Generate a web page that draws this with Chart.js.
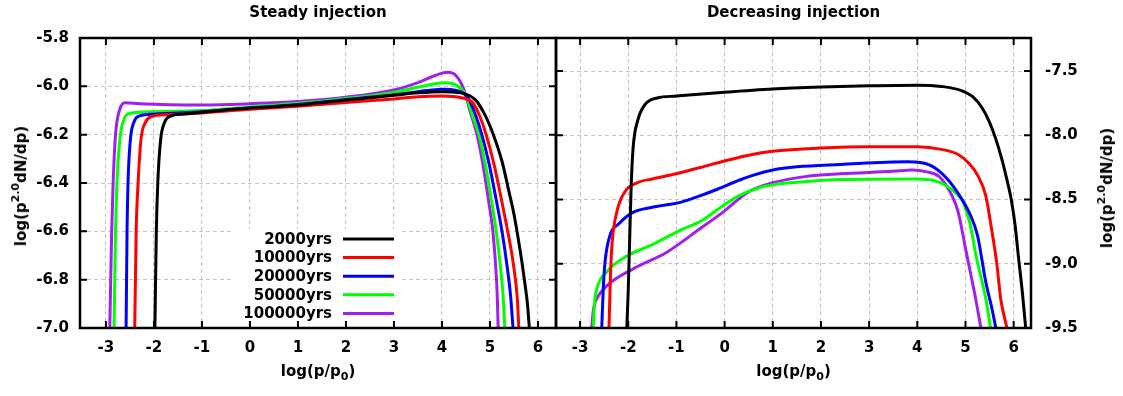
<!DOCTYPE html>
<html>
<head>
<meta charset="utf-8">
<script src="https://cdn.jsdelivr.net/npm/chart.js@4.4.0/dist/chart.umd.min.js"></script>
<style>
  body { margin: 0; background: #fff; width: 1123px; height: 396px; position: relative; overflow: hidden; }
  canvas { position: absolute; top: 0; }
  #steadyChart { left: 0; }
  #decrChart { left: 552px; }
  .lbl { position: absolute; font-family: "DejaVu Sans", sans-serif; font-weight: bold; font-size: 15px; line-height: 18px; white-space: nowrap; color: #000; }
  .sup { font-size: 11px; vertical-align: 7px; line-height: 0; }
  .sub { font-size: 11px; vertical-align: -4px; line-height: 0; }
  .rot { transform: translate(-50%, -50%) rotate(-90deg); }
</style>
</head>
<body>
<canvas id="steadyChart" width="560" height="396"></canvas>
<canvas id="decrChart" width="571" height="396"></canvas>

<div class="lbl" style="left:80px;width:476px;top:3px;text-align:center">Steady injection</div>
<div class="lbl" style="left:556px;width:475px;top:3px;text-align:center">Decreasing injection</div>
<div class="lbl" style="left:80px;width:476px;top:362px;text-align:center">log(p/p<span class="sub">0</span>)</div>
<div class="lbl" style="left:556px;width:475px;top:362px;text-align:center">log(p/p<span class="sub">0</span>)</div>
<div class="lbl rot" style="left:21px;top:186px">log(p<span class="sup">2.0</span>dN/dp)</div>
<div class="lbl rot" style="left:1107px;top:188px">log(p<span class="sup">2.0</span>dN/dp)</div>

<script>
// tick labels
const xTicks = [-3, -2, -1, 0, 1, 2, 3, 4, 5, 6];
const steadyYTicks = [-7.0, -6.8, -6.6, -6.4, -6.2, -6.0, -5.8];
const decrYTicks = [-9.5, -9.0, -8.5, -8.0, -7.5];

const seriesNames = ["2000yrs", "10000yrs", "20000yrs", "50000yrs", "100000yrs"];
const seriesColors = ["#000000", "#ff0000", "#0000ff", "#00ff00", "#a020f0"];

// Steady injection, [log(p/p0), log(p^2 dN/dp)]
const steady2000 = [[-1.98,-7.0],[-1.95,-6.6],[-1.92,-6.4],[-1.86,-6.22],[-1.78,-6.15],[-1.65,-6.123],[-1.4,-6.115],[-1,-6.107],[0,-6.09],[1,-6.077],[2,-6.057],[3,-6.037],[3.5,-6.027],[4,-6.022],[4.4,-6.027],[4.7,-6.057],[4.9,-6.12],[5.07,-6.2],[5.25,-6.31],[5.4,-6.44],[5.5,-6.53],[5.58,-6.62],[5.66,-6.72],[5.73,-6.82],[5.78,-6.9],[5.82,-7.0]];
const steady10000 = [[-2.4,-7.0],[-2.37,-6.6],[-2.33,-6.4],[-2.27,-6.22],[-2.18,-6.15],[-2.05,-6.125],[-1.7,-6.117],[-1,-6.11],[0,-6.095],[1,-6.082],[2,-6.067],[3,-6.052],[3.5,-6.043],[4,-6.04],[4.4,-6.047],[4.65,-6.07],[4.8,-6.13],[4.92,-6.2],[5.08,-6.32],[5.22,-6.45],[5.35,-6.58],[5.46,-6.7],[5.53,-6.8],[5.57,-6.88],[5.6,-7.0]];
const steady20000 = [[-2.58,-7.0],[-2.56,-6.6],[-2.54,-6.4],[-2.49,-6.22],[-2.42,-6.15],[-2.3,-6.122],[-2,-6.115],[-1,-6.105],[0,-6.09],[1,-6.075],[2,-6.055],[3,-6.035],[3.5,-6.022],[4,-6.012],[4.3,-6.017],[4.55,-6.05],[4.7,-6.12],[4.83,-6.2],[4.98,-6.32],[5.12,-6.46],[5.25,-6.6],[5.36,-6.75],[5.43,-6.87],[5.48,-7.0]];
const steady50000 = [[-2.83,-7.0],[-2.8,-6.6],[-2.77,-6.4],[-2.71,-6.22],[-2.63,-6.14],[-2.5,-6.112],[-2,-6.105],[-1,-6.1],[0,-6.085],[1,-6.07],[2,-6.05],[3,-6.025],[3.6,-6.0],[4.05,-5.985],[4.3,-5.995],[4.5,-6.04],[4.63,-6.12],[4.77,-6.2],[4.9,-6.32],[5.03,-6.47],[5.13,-6.6],[5.22,-6.75],[5.27,-6.86],[5.31,-7.0]];
const steady100000 = [[-2.92,-7.0],[-2.88,-6.6],[-2.85,-6.4],[-2.8,-6.2],[-2.72,-6.1],[-2.6,-6.068],[-2.3,-6.072],[-1,-6.077],[0,-6.072],[1,-6.063],[2,-6.045],[3,-6.015],[3.5,-5.985],[3.9,-5.952],[4.12,-5.942],[4.3,-5.957],[4.45,-6.01],[4.58,-6.1],[4.73,-6.2],[4.85,-6.32],[4.96,-6.46],[5.06,-6.6],[5.12,-6.75],[5.15,-6.86],[5.17,-7.0]];

// Decreasing injection
const decr2000 = [[-2.03,-9.5],[-2.0,-9.2],[-1.97,-8.8],[-1.94,-8.4],[-1.9,-8.1],[-1.8,-7.88],[-1.65,-7.76],[-1.4,-7.71],[-1,-7.695],[0,-7.665],[1,-7.64],[2,-7.625],[3,-7.615],[4,-7.61],[4.5,-7.62],[4.9,-7.65],[5.15,-7.7],[5.35,-7.79],[5.5,-7.9],[5.63,-8.03],[5.75,-8.18],[5.85,-8.33],[5.95,-8.5],[6.03,-8.7],[6.1,-8.95],[6.18,-9.22],[6.25,-9.5]];
const decr10000 = [[-2.4,-9.5],[-2.37,-9.1],[-2.34,-8.86],[-2.24,-8.6],[-2.07,-8.44],[-1.82,-8.37],[-1.5,-8.34],[-0.9,-8.29],[-0.4,-8.24],[0,-8.2],[0.5,-8.155],[1,-8.125],[2,-8.1],[3,-8.09],[4,-8.09],[4.5,-8.11],[4.85,-8.15],[5.1,-8.23],[5.25,-8.31],[5.42,-8.47],[5.55,-8.75],[5.65,-9.0],[5.73,-9.27],[5.86,-9.5]];
const decr20000 = [[-2.55,-9.5],[-2.52,-9.2],[-2.48,-8.98],[-2.38,-8.78],[-2.2,-8.69],[-1.9,-8.6],[-1.5,-8.56],[-0.9,-8.52],[-0.5,-8.47],[-0.15,-8.42],[0.3,-8.35],[0.6,-8.31],[1,-8.27],[1.5,-8.245],[2.4,-8.227],[3.8,-8.206],[4.25,-8.23],[4.6,-8.33],[4.93,-8.5],[5.1,-8.62],[5.25,-8.78],[5.42,-9.14],[5.55,-9.35],[5.63,-9.5]];
const decr50000 = [[-2.73,-9.5],[-2.7,-9.3],[-2.65,-9.19],[-2.44,-9.06],[-2.03,-8.94],[-1.55,-8.86],[-0.87,-8.73],[-0.5,-8.67],[-0.04,-8.55],[0.3,-8.47],[0.7,-8.41],[1.1,-8.38],[1.7,-8.36],[2.4,-8.345],[3.97,-8.34],[4.45,-8.365],[4.8,-8.45],[4.95,-8.52],[5.1,-8.7],[5.22,-8.94],[5.42,-9.27],[5.52,-9.5]];
const decr100000 = [[-2.76,-9.5],[-2.72,-9.35],[-2.65,-9.27],[-2.44,-9.17],[-1.9,-9.04],[-1.2,-8.91],[-0.52,-8.73],[-0.04,-8.6],[0.5,-8.44],[1,-8.37],[1.7,-8.32],[2.4,-8.3],[3.5,-8.28],[3.9,-8.27],[4.2,-8.285],[4.45,-8.32],[4.72,-8.47],[4.85,-8.6],[5.0,-8.88],[5.21,-9.27],[5.32,-9.5]];

const steadySeries = [steady2000, steady10000, steady20000, steady50000, steady100000];
const decrSeries = [decr2000, decr10000, decr20000, decr50000, decr100000];

const tickFont = { family: "DejaVu Sans", weight: "bold", size: 15 };

function makeDatasets(series) {
    return series.map((pts, i) => ({
        label: seriesNames[i],
        data: pts.map(p => ({ x: p[0], y: p[1] })),
        borderColor: seriesColors[i],
        borderWidth: 3,
        pointRadius: 0,
        fill: false,
        cubicInterpolationMode: "monotone"
    }));
}

// gnuplot-like frame: inward ticks on all sides + box, plus the key
const framePlugin = {
    id: "frame",
    afterDatasetsDraw(chart, args, opts) {
        const ctx = chart.ctx, a = chart.chartArea;
        const x = chart.scales.x, y = chart.scales.y;
        ctx.save();
        if (opts.key) {
            const k = opts.key;
            ctx.fillStyle = "#fff";
            ctx.fillRect(k.left, k.top, k.width, k.height);
            ctx.font = 'bold 15px "DejaVu Sans"';
            ctx.textAlign = "right";
            ctx.textBaseline = "middle";
            chart.data.datasets.forEach((ds, i) => {
                const yy = k.firstRow + i * k.rowGap;
                ctx.fillStyle = "#000";
                ctx.fillText(ds.label, k.textRight, yy + 1);
                ctx.strokeStyle = ds.borderColor;
                ctx.lineWidth = 3;
                ctx.beginPath();
                ctx.moveTo(k.lineFrom, yy);
                ctx.lineTo(k.lineTo, yy);
                ctx.stroke();
            });
        }
        const tl = 7;
        ctx.strokeStyle = "#000";
        ctx.lineWidth = 2;
        ctx.beginPath();
        x.ticks.forEach(t => {
            const px = x.getPixelForValue(t.value);
            ctx.moveTo(px, a.bottom); ctx.lineTo(px, a.bottom - tl);
            ctx.moveTo(px, a.top); ctx.lineTo(px, a.top + tl);
        });
        y.ticks.forEach(t => {
            const py = y.getPixelForValue(t.value);
            ctx.moveTo(a.left, py); ctx.lineTo(a.left + tl, py);
            ctx.moveTo(a.right, py); ctx.lineTo(a.right - tl, py);
        });
        ctx.stroke();
        ctx.lineWidth = 2.5;
        ctx.strokeRect(a.left, a.top, a.right - a.left, a.bottom - a.top);
        ctx.restore();
    }
};

function xScale(min, max) {
    return {
        type: "linear",
        min: min,
        max: max,
        afterBuildTicks: s => { s.ticks = xTicks.map(v => ({ value: v })); },
        afterFit: s => { s.height = 68; },
        grid: { color: "#c4c4c4", lineWidth: 1, drawTicks: false },
        border: { display: false, dash: [4, 3] },
        ticks: { font: tickFont, color: "#000", padding: 11, maxRotation: 0, callback: v => String(v) }
    };
}

function yScale(min, max, ticks, pos, width, pad) {
    return {
        type: "linear",
        position: pos,
        min: min,
        max: max,
        afterBuildTicks: s => { s.ticks = ticks.map(v => ({ value: v })); },
        afterFit: s => { s.width = width; },
        grid: { color: "#c4c4c4", lineWidth: 1, drawTicks: false },
        border: { display: false, dash: [4, 3] },
        ticks: { font: tickFont, color: "#000", padding: pad, callback: v => v.toFixed(1) }
    };
}

new Chart(document.getElementById("steadyChart"), {
    type: "line",
    data: { datasets: makeDatasets(steadySeries) },
    options: {
        responsive: false,
        animation: false,
        layout: { padding: { top: 38, right: 4, left: 0, bottom: 0 } },
        scales: {
            x: xScale(-3.54, 6.375),
            y: yScale(-7.0, -5.8, steadyYTicks, "left", 80, 11)
        },
        plugins: {
            legend: { display: false },
            tooltip: { enabled: false },
            frame: { key: { left: 232, top: 229, width: 168, height: 99, textRight: 332, lineFrom: 343, lineTo: 394, firstRow: 239, rowGap: 18.6 } }
        }
    },
    plugins: [framePlugin]
});

new Chart(document.getElementById("decrChart"), {
    type: "line",
    data: { datasets: makeDatasets(decrSeries) },
    options: {
        responsive: false,
        animation: false,
        layout: { padding: { top: 38, right: 0, left: 4, bottom: 0 } },
        scales: {
            x: xScale(-3.5, 6.36),
            y: yScale(-9.5, -7.243, decrYTicks, "right", 92, 14)
        },
        plugins: {
            legend: { display: false },
            tooltip: { enabled: false },
            frame: {}
        }
    },
    plugins: [framePlugin]
});
</script>
</body>
</html>
